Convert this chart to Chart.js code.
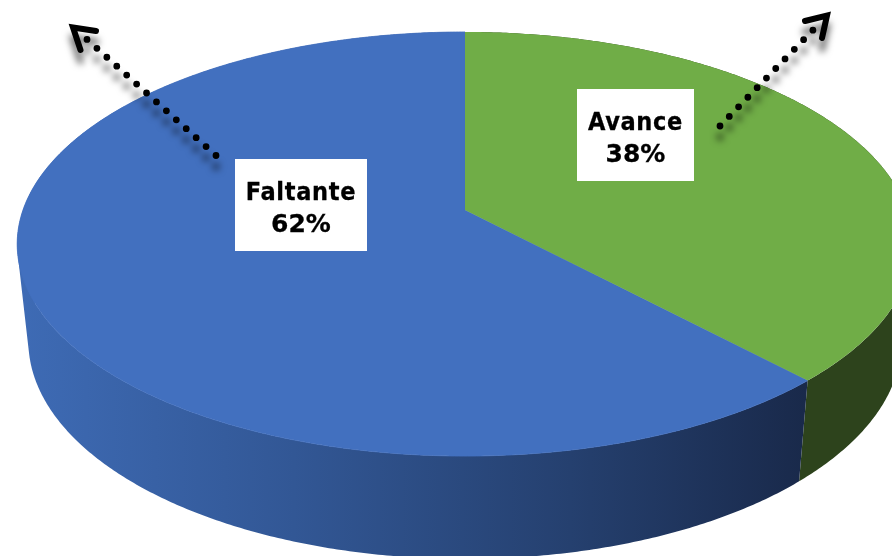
<!DOCTYPE html>
<html>
<head>
<meta charset="utf-8">
<style>
html,body{margin:0;padding:0;background:#fff;overflow:hidden}
canvas{display:block;filter:blur(0.4px)}
</style>
<script src="https://cdn.jsdelivr.net/npm/chart.js@4"></script>
</head>
<body>
<canvas id="c" width="892" height="556"></canvas>
<script>
const categories = ['Avance', 'Faltante'];
const values = [38, 62];
const topColors = ['#70AD47', '#4270BF'];

// Perspective disc: x = cx + s*cos(a)/d, y = (p*sin(a)+q)/d, d = 1 - r*sin(a)
const topFace = {cx: 465, s: 442, p: 172.9, q: 210, r: 0.1604};
const lowFace = {cx: 465, s: 431, p: 163.3, q: 306, r: 0.1604};

function project(f, a) {
  const d = 1 - f.r * Math.sin(a);
  return [f.cx + f.s * Math.cos(a) / d, (f.p * Math.sin(a) + f.q) / d];
}
function traceArc(ctx, f, a0, a1) {
  const n = Math.max(8, Math.ceil(Math.abs(a1 - a0) * 120));
  for (let i = 0; i <= n; i++) {
    const pt = project(f, a0 + (a1 - a0) * i / n);
    ctx.lineTo(pt[0], pt[1]);
  }
}
// One quad of the wall, wound the same way every time so that a single fill stays smooth.
function addWallQuad(ctx, a0, a1) {
  const q = [project(topFace, a0), project(topFace, a1), project(lowFace, a1), project(lowFace, a0)];
  let area = 0;
  for (let i = 0; i < 4; i++) {
    const u = q[i], v = q[(i + 1) % 4];
    area += u[0] * v[1] - v[0] * u[1];
  }
  if (area < 0) q.reverse();
  ctx.moveTo(q[0][0], q[0][1]);
  for (let i = 1; i < 4; i++) ctx.lineTo(q[i][0], q[i][1]);
  ctx.closePath();
}

const pie3d = {
  id: 'pie3d',
  beforeDatasetsDraw(chart) {
    const ctx = chart.ctx;
    const arcs = chart.getDatasetMeta(0).data;
    ctx.save();
    // side walls
    arcs.forEach((arc, i) => {
      if (i === 0) {
        ctx.fillStyle = '#2D431C';
      } else {
        const g = ctx.createLinearGradient(17, 0, 808, 0);
        g.addColorStop(0, '#3E6BB5');
        g.addColorStop(0.35, '#325795');
        g.addColorStop(0.7, '#25406F');
        g.addColorStop(1, '#19294A');
        ctx.fillStyle = g;
      }
      const n = Math.ceil((arc.endAngle - arc.startAngle) * 120);
      const step = (arc.endAngle - arc.startAngle) / n;
      ctx.beginPath();
      for (let k = 0; k < n; k++) {
        const a0 = arc.startAngle + k * step;
        addWallQuad(ctx, a0, a0 + step);
      }
      ctx.fill();
    });
    // top faces, blue first and slightly spread so no pale seam shows under the green edge
    [1, 0].forEach(i => {
      const arc = arcs[i];
      ctx.beginPath();
      ctx.moveTo(topFace.cx, topFace.q);
      traceArc(ctx, topFace, arc.startAngle, arc.endAngle);
      ctx.closePath();
      ctx.fillStyle = topColors[i];
      ctx.fill();
      if (i === 1) {
        ctx.strokeStyle = topColors[i];
        ctx.lineWidth = 0.8;
        ctx.stroke();
      }
    });
    ctx.restore();
    return false;
  },
  afterDraw(chart) {
    const ctx = chart.ctx;
    const arrows = [
      {from: [216, 155.5], to: [86, 38.5], head: [[96, 31], [73, 27.5], [80.5, 50]]},
      {from: [720, 126], to: [814, 29], head: [[805, 21], [827, 15.5], [822, 38]]}
    ];
    const boxes = [
      {x: 577, y: 89, w: 117, h: 92},
      {x: 235, y: 159, w: 132, h: 92}
    ];
    ctx.save();
    arrows.forEach(a => {
      ctx.save();
      ctx.shadowColor = 'rgba(0,0,0,0.6)';
      ctx.shadowBlur = 7;
      ctx.shadowOffsetY = 11;
      ctx.shadowOffsetX = 0;
      ctx.strokeStyle = '#000';
      ctx.lineCap = 'round';
      ctx.lineJoin = 'miter';
      ctx.miterLimit = 10;
      ctx.lineWidth = 6.8;
      ctx.setLineDash([0, 13.35]);
      ctx.beginPath();
      ctx.moveTo(a.from[0], a.from[1]);
      ctx.lineTo(a.to[0], a.to[1]);
      ctx.stroke();
      ctx.setLineDash([]);
      ctx.lineWidth = 6;
      ctx.beginPath();
      ctx.moveTo(a.head[0][0], a.head[0][1]);
      ctx.lineTo(a.head[1][0], a.head[1][1]);
      ctx.lineTo(a.head[2][0], a.head[2][1]);
      ctx.stroke();
      ctx.restore();
    });
    const total = values.reduce((s, v) => s + v, 0);
    boxes.forEach((b, i) => {
      ctx.fillStyle = '#fff';
      ctx.fillRect(b.x, b.y, b.w, b.h);
      ctx.fillStyle = '#000';
      ctx.strokeStyle = '#000';
      ctx.lineWidth = 0.3;
      ctx.textAlign = 'center';
      ctx.textBaseline = 'alphabetic';
      ctx.font = 'bold 25px "DejaVu Sans Condensed", "DejaVu Sans"';
      ctx.letterSpacing = '0.7px';
      ctx.fillText(categories[i], b.x + b.w / 2, b.y + 41);
      ctx.strokeText(categories[i], b.x + b.w / 2, b.y + 41);
      const pct = Math.round(values[i] / total * 100) + '%';
      ctx.font = 'bold 25px "DejaVu Sans"';
      ctx.letterSpacing = '0px';
      ctx.fillText(pct, b.x + b.w / 2, b.y + 73);
      ctx.strokeText(pct, b.x + b.w / 2, b.y + 73);
    });
    ctx.restore();
  }
};

new Chart(document.getElementById('c'), {
  type: 'pie',
  data: {labels: categories, datasets: [{data: values, backgroundColor: topColors, borderWidth: 0}]},
  options: {
    responsive: false,
    animation: false,
    events: [],
    plugins: {legend: {display: false}, tooltip: {enabled: false}}
  },
  plugins: [pie3d]
});
</script>
</body>
</html>
